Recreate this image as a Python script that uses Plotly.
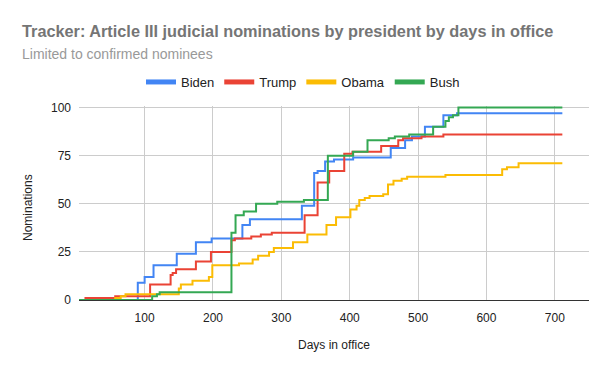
import plotly.graph_objects as go

# ---- data ----
biden_days = [4, 90, 100, 113, 147, 175, 198, 243, 254, 330, 348, 353, 364, 377, 405, 460, 481, 491, 510, 537, 557, 711]
biden_vals = [0, 9, 12, 18, 24, 30, 32, 39, 42, 49, 66, 67, 72, 73, 74, 79, 83, 85, 90, 96, 97, 97]

trump_days = [12, 57, 108, 138, 141, 146, 175, 197, 227, 232, 256, 270, 286, 334, 353, 370, 392, 404, 446, 471, 478, 505, 537, 711]
trump_vals = [1, 2, 8, 13, 14, 16, 20, 25, 31, 32, 33, 34, 35, 44, 61, 67, 76, 77, 80, 83, 84, 85, 86, 86]

obama_days = [4, 57, 65, 72, 150, 153, 170, 194, 199, 238, 258, 266, 282, 289, 317, 338, 366, 380, 401, 410, 414, 422, 429, 449, 456, 464, 476, 484, 540, 623, 630, 647, 711]
obama_vals = [0, 1, 2, 3, 6, 8, 10, 12, 18, 19, 21, 23, 25, 27, 30, 34, 39, 43, 47, 49, 52, 53, 54, 55, 60, 62, 63, 64, 65, 68, 69, 71, 71]

bush_days = [4, 111, 118, 122, 227, 233, 245, 263, 294, 333, 368, 405, 426, 457, 466, 487, 522, 540, 545, 551, 559, 711]
bush_vals = [0, 2, 3, 4, 35, 44, 46, 50, 51, 52, 75, 77, 83, 84, 85, 86, 90, 93, 95, 96, 100, 100]

series_names = ["Biden", "Trump", "Obama", "Bush"]
series_colors = ["#4285F4", "#EA4335", "#FBBC04", "#34A853"]
series_days = [biden_days, trump_days, obama_days, bush_days]
series_vals = [biden_vals, trump_vals, obama_vals, bush_vals]

x_ticks = [100, 200, 300, 400, 500, 600, 700]
y_ticks = [0, 25, 50, 75, 100]

title_text = "Tracker: Article III judicial nominations by president by days in office"
subtitle_text = "Limited to confirmed nominees"
x_title = "Days in office"
y_title = "Nominations"

# ---- layout geometry ----
W, H = 600, 371
L, R, T, B = 79, 11, 106, 71
PW = W - L - R
PH = H - T - B
FONT = "Liberation Sans, Arial, sans-serif"


def px(xp):
    return (xp - L) / PW


def py(yp):
    return (H - B - yp) / PH


fig = go.Figure()
for name, color, d, v in zip(series_names, series_colors, series_days, series_vals):
    fig.add_trace(go.Scatter(
        x=d, y=v, mode="lines", name=name, legendgroup=name,
        line=dict(color=color, width=2, shape="hv"),
        showlegend=False, hoverinfo="x+y+name",
    ))
# legend entries
for name, color in zip(series_names, series_colors):
    fig.add_trace(go.Scatter(
        x=[None], y=[None], mode="lines", name=name, legendgroup=name,
        line=dict(color=color, width=5), showlegend=True,
    ))

fig.update_layout(
    width=W, height=H,
    margin=dict(l=L, r=R, t=T, b=B, pad=0, autoexpand=False),
    paper_bgcolor="white", plot_bgcolor="white",
    font=dict(family=FONT, size=12, color="#222222"),
    showlegend=True,
    legend=dict(
        orientation="h", xref="container", yref="container",
        x=0.505, xanchor="center", y=1 - 82 / H, yanchor="middle",
        font=dict(family=FONT, size=13, color="#222222"),
        itemwidth=30, bgcolor="rgba(0,0,0,0)",
    ),
    xaxis=dict(
        range=[4, 750], tickvals=x_ticks, ticktext=[str(t) for t in x_ticks],
        showgrid=True, gridcolor="#cccccc", gridwidth=1,
        zeroline=False, showline=True, linecolor="#333333", linewidth=1,
        ticks="", ticklabelstandoff=7, automargin=False,
        tickfont=dict(family=FONT, size=12, color="#222222"),
    ),
    yaxis=dict(
        range=[0, 100.8], tickvals=y_ticks, ticktext=[str(t) for t in y_ticks],
        showgrid=True, gridcolor="#cccccc", gridwidth=1,
        zeroline=False, showline=False, automargin=False,
        ticks="", ticklabelstandoff=7,
        tickfont=dict(family=FONT, size=12, color="#222222"),
    ),
    annotations=[
        dict(text="<b>" + title_text + "</b>", xref="paper", yref="paper",
             x=px(20), y=py(31), xanchor="left", yanchor="middle", showarrow=False,
             font=dict(family=FONT, size=16.3, color="#757575")),
        dict(text=subtitle_text, xref="paper", yref="paper",
             x=px(20), y=py(54), xanchor="left", yanchor="middle", showarrow=False,
             font=dict(family=FONT, size=14, color="#999999")),
        dict(text=x_title, xref="paper", yref="paper",
             x=0.5, y=py(345), xanchor="center", yanchor="middle", showarrow=False,
             font=dict(family=FONT, size=12, color="#222222")),
        dict(text=y_title, xref="paper", yref="paper", textangle=-90,
             x=px(28), y=py(208), xanchor="center", yanchor="middle", showarrow=False,
             font=dict(family=FONT, size=12, color="#222222")),
    ],
)

fig.write_html("out.html", config={"displayModeBar": False},
               post_script="document.body.style.margin='0';")
